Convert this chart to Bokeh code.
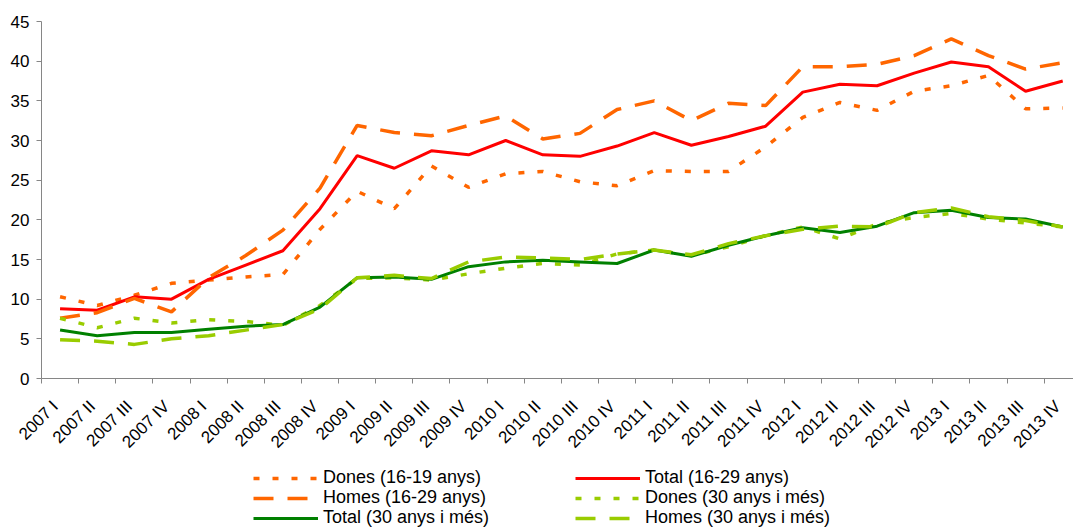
import math
from bokeh.plotting import figure
from bokeh.layouts import column
from bokeh.models import Range1d, FixedTicker, Legend, LegendItem
from bokeh.embed import file_html
from bokeh.resources import INLINE

quarters = ["2007 I", "2007 II", "2007 III", "2007 IV",
            "2008 I", "2008 II", "2008 III", "2008 IV",
            "2009 I", "2009 II", "2009 III", "2009 IV",
            "2010 I", "2010 II", "2010 III", "2010 IV",
            "2011 I", "2011 II", "2011 III", "2011 IV",
            "2012 I", "2012 II", "2012 III", "2012 IV",
            "2013 I", "2013 II", "2013 III", "2013 IV"]

dones_16_19 = [10.3, 9.2, 10.5, 12.0, 12.4, 12.8, 13.1, 18.8, 23.6, 21.4, 26.8, 24.1, 25.8, 26.1,
               24.8, 24.3, 26.2, 26.1, 26.1, 29.2, 32.9, 34.8, 33.8, 36.2, 36.9, 38.2, 34.0, 34.1]
total_16_29 = [8.8, 8.6, 10.3, 10.0, 12.5, 14.3, 16.1, 21.4, 28.1, 26.5, 28.7, 28.2, 30.0, 28.2,
               28.0, 29.3, 31.0, 29.4, 30.5, 31.8, 36.1, 37.1, 36.9, 38.5, 39.9, 39.3, 36.2, 37.5]
homes_16_29 = [7.6, 8.3, 10.1, 8.4, 12.7, 15.5, 18.7, 24.0, 31.9, 31.0, 30.6, 31.9, 33.1, 30.2,
               30.9, 33.9, 35.0, 32.5, 34.7, 34.4, 39.3, 39.3, 39.6, 40.7, 42.8, 40.7, 39.0, 39.8]
dones_30 = [7.6, 6.4, 7.6, 7.0, 7.4, 7.2, 6.7, 9.2, 12.6, 12.7, 12.4, 13.2, 13.9, 14.5,
            14.3, 15.7, 16.2, 15.5, 16.6, 18.0, 19.1, 17.6, 19.5, 20.3, 20.8, 20.1, 19.6, 19.1]
total_30 = [6.1, 5.4, 5.8, 5.8, 6.2, 6.6, 6.8, 9.0, 12.7, 12.8, 12.5, 14.1, 14.7, 14.9,
            14.7, 14.5, 16.2, 15.4, 16.8, 18.0, 19.0, 18.4, 19.2, 20.9, 21.2, 20.3, 20.1, 19.1]
homes_30 = [4.9, 4.7, 4.3, 5.0, 5.4, 6.1, 6.8, 8.8, 12.7, 13.0, 12.6, 14.7, 15.3, 15.2,
            15.0, 15.7, 16.2, 15.6, 17.0, 18.0, 18.8, 19.2, 19.1, 20.9, 21.5, 20.4, 19.9, 19.1]

labels = ["Dones (16-19 anys)", "Total (16-29 anys)", "Homes (16-29 anys)",
          "Dones (30 anys i més)", "Total (30 anys i més)", "Homes (30 anys i més)"]
y_ticks = [0, 5, 10, 15, 20, 25, 30, 35, 40, 45]

FONT = "Liberation Sans"
AXIS_GREY = "#868686"
ORANGE, RED, DKGREEN, LTGREEN = "#FF6600", "#FF0000", "#008000", "#99CC00"

styles = [dict(line_color=ORANGE, line_width=3.5, line_dash="6 13"),
          dict(line_color=RED, line_width=3),
          dict(line_color=ORANGE, line_width=3.5, line_dash="20 14"),
          dict(line_color=LTGREEN, line_width=3.5, line_dash="6 13"),
          dict(line_color=DKGREEN, line_width=3),
          dict(line_color=LTGREEN, line_width=3.5, line_dash="20 14")]
series = [dones_16_19, total_16_29, homes_16_29, dones_30, total_30, homes_30]

xs = [i + 0.5 for i in range(len(quarters))]
label_pos = [x - 0.13 for x in xs]   # where the rotated labels are anchored

MAIN_H = 462
p = figure(width=1073, height=MAIN_H, output_backend="svg", toolbar_location=None,
           x_range=Range1d(0, 27.79), y_range=Range1d(0, 45),
           min_border_left=41, min_border_right=0, min_border_top=21,
           min_border_bottom=MAIN_H - 378)
p.xgrid.visible = False
p.ygrid.visible = False
p.outline_line_color = None

for ys, st in zip(series, styles):
    p.line(xs, ys, **st)

# y axis
p.yaxis.ticker = FixedTicker(ticks=y_ticks)
p.yaxis.major_tick_out = 5
p.yaxis.major_tick_in = 0
p.yaxis.minor_tick_line_color = None
p.yaxis.axis_line_color = AXIS_GREY
p.yaxis.major_tick_line_color = AXIS_GREY
p.yaxis.major_label_text_font = FONT
p.yaxis.major_label_text_font_size = "17px"
p.yaxis.major_label_text_color = "black"
p.yaxis.major_label_standoff = 7

# x axis: boundary ticks as minor ticks, labels on invisible major ticks
p.xaxis.ticker = FixedTicker(ticks=label_pos, minor_ticks=list(range(0, 28)))
p.xaxis.major_tick_line_color = None
p.xaxis.major_tick_out = 0
p.xaxis.major_tick_in = 0
p.xaxis.minor_tick_out = 5
p.xaxis.minor_tick_in = 0
p.xaxis.minor_tick_line_color = AXIS_GREY
p.xaxis.axis_line_color = AXIS_GREY
p.xaxis.major_label_overrides = {x: q for x, q in zip(label_pos, quarters)}
p.xaxis.major_label_orientation = math.pi / 4
p.xaxis.major_label_text_font = FONT
p.xaxis.major_label_text_font_size = "17px"
p.xaxis.major_label_text_color = "black"
p.xaxis.major_label_standoff = 20

# legend panel (a strip under the chart)
LG_H = 528 - MAIN_H
lg = figure(width=1073, height=LG_H, output_backend="svg", toolbar_location=None,
            x_axis_type=None, y_axis_type=None,
            x_range=Range1d(0, 1), y_range=Range1d(0, 1),
            min_border_left=41, min_border_right=0, min_border_top=0, min_border_bottom=0)
lg.xgrid.visible = False
lg.ygrid.visible = False
lg.outline_line_color = None
# one-point lines: draw nothing themselves, only serve as legend swatches
swatches = [lg.line([-1], [-1], **st) for st in styles]

ITEM_H = 20
col_x = [212, 534]          # glyph start, relative to the strip frame
row_c = [16, 36, 56]        # row centres, from the strip top

for k in range(6):
    row, col = divmod(k, 2)
    leg = Legend(items=[LegendItem(label=labels[k], renderers=[swatches[k]])],
                 location=(col_x[col], LG_H - row_c[row] - ITEM_H / 2),
                 glyph_width=65, glyph_height=ITEM_H, label_height=ITEM_H, spacing=0,
                 padding=0, margin=0, label_standoff=5,
                 label_text_font=FONT, label_text_font_size="18px",
                 label_text_color="black",
                 border_line_color=None, background_fill_alpha=0)
    lg.add_layout(leg)

open("out.html", "w").write(file_html(column(p, lg, spacing=0), INLINE))
